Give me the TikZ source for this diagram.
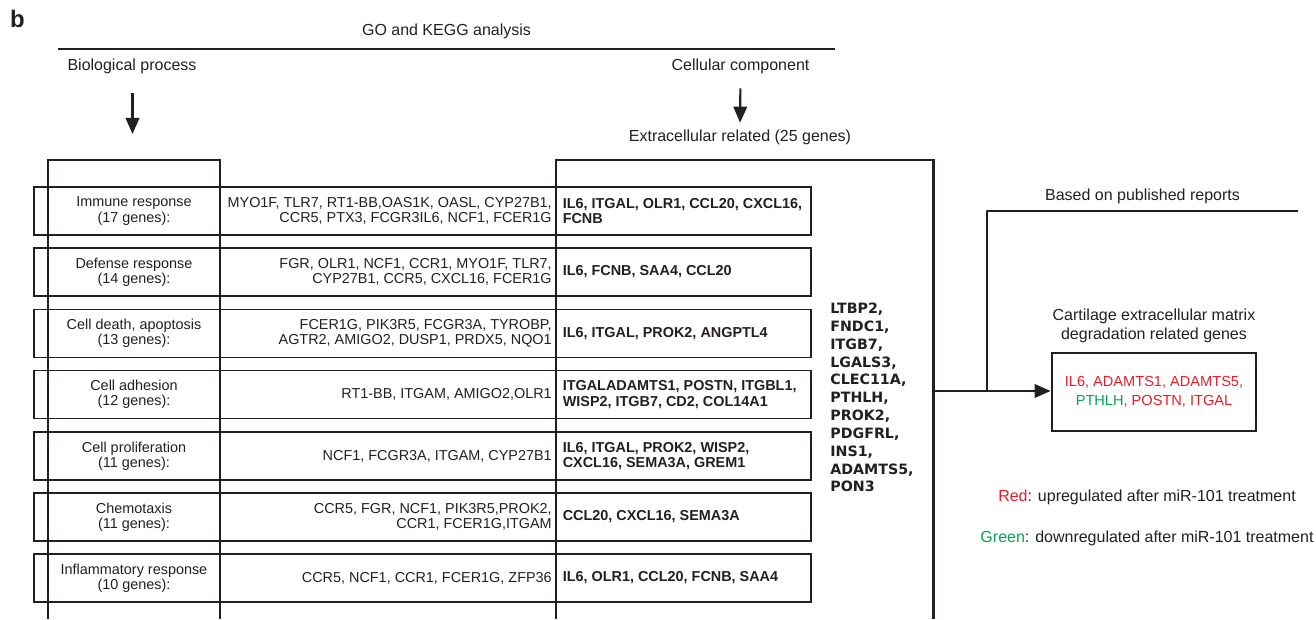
\documentclass[tikz,border=0pt]{standalone}
\usepackage{fontspec}
\setmainfont{Liberation Sans}
\newfontfamily\listfont{DejaVu Sans}
\usetikzlibrary{arrows.meta,positioning}
\definecolor{inkgray}{HTML}{231F20}
\definecolor{upred}{HTML}{ED1C24}
\definecolor{downgreen}{HTML}{00A651}
\tikzset{
  heading/.style={inner sep=0pt, align=center, text=inkgray, font=\fontsize{9.1}{11.3}\selectfont},
  rowbox/.style={rectangle, draw=inkgray, line width=0.65pt, minimum height=0.96cm, inner sep=0pt},
  termbox/.style={rowbox, minimum width=10.44cm},
  extbox/.style={rowbox, minimum width=5.1cm},
  term/.style={inner sep=0pt, align=center, text=inkgray, font=\fontsize{8.2}{8.7}\selectfont},
  bpgenes/.style={inner sep=0pt, align=right, text=inkgray, font=\fontsize{8.2}{8.7}\selectfont},
  ecgenes/.style={inner sep=0pt, align=left, text=inkgray, font=\fontsize{8.2}{8.7}\selectfont\bfseries},
  column/.style={draw=inkgray, line width=1.7pt},
  flow/.style={-{Triangle[length=0.32cm, width=0.27cm]}, line width=1.2pt, draw=inkgray},
  link/.style={draw=inkgray, line width=1.3pt},
  rule/.style={draw=inkgray, line width=0.85pt},
  target/.style={rectangle, draw=inkgray, line width=1.6pt, minimum width=4.08cm, minimum height=1.56cm, align=center, font=\fontsize{8.3}{10.8}\selectfont},
  legend/.style={heading}
}
\begin{document}
\begin{tikzpicture}
\useasboundingbox (0,0) rectangle (26.32,12.38);

\node[inner sep=0pt, text=inkgray, font=\fontsize{13.6}{15}\selectfont\bfseries] (panel) at (0.35,12.0) {b};

% Header and the two branches.
\node[heading, minimum width=15.54cm] (gokegg) at (8.93,11.76) {GO and KEGG analysis};
\draw[rule] ([yshift=-0.2cm]gokegg.south west) -- ([yshift=-0.2cm]gokegg.south east);

\node[heading] (bio) at (2.64,11.06) {Biological process};
\node[heading] (cellcomp) at (14.81,11.06) {Cellular component};
\node[heading] (extra) at (14.8,9.64) {Extracellular related (25 genes)};

\coordinate (bptop) at (2.65,9.18);
\draw[flow, shorten <=0.39cm, shorten >=0.52cm] (bio.south -| bptop) -- (bptop);
\draw[flow, shorten <=0.29cm, shorten >=0.13cm] (cellcomp) -- (extra);

% Rows: process, its genes, extracellular genes.
\foreach \y/\proc/\procgenes/\ecg [count=\i] in {
  8.16/{Immune response\\(17 genes):}/{MYO1F, TLR7, RT1-BB,OAS1K, OASL, CYP27B1,\\CCR5, PTX3, FCGR3IL6, NCF1, FCER1G}/{IL6, ITGAL, OLR1, CCL20, CXCL16,\\FCNB},
  6.94/{Defense response\\(14 genes):}/{FGR, OLR1, NCF1, CCR1, MYO1F, TLR7,\\CYP27B1, CCR5, CXCL16, FCER1G}/{IL6, FCNB, SAA4, CCL20},
  5.71/{Cell death, apoptosis\\(13 genes):}/{FCER1G, PIK3R5, FCGR3A, TYROBP,\\AGTR2, AMIGO2, DUSP1, PRDX5, NQO1}/{IL6, ITGAL, PROK2, ANGPTL4},
  4.49/{Cell adhesion\\(12 genes):}/{RT1-BB, ITGAM, AMIGO2,OLR1}/{ITGALADAMTS1, POSTN, ITGBL1,\\WISP2, ITGB7, CD2, COL14A1},
  3.26/{Cell proliferation\\(11 genes):}/{NCF1, FCGR3A, ITGAM, CYP27B1}/{IL6, ITGAL, PROK2, WISP2,\\CXCL16, SEMA3A, GREM1},
  2.04/{Chemotaxis\\(11 genes):}/{CCR5, FGR, NCF1, PIK3R5,PROK2,\\CCR1, FCER1G,ITGAM}/{CCL20, CXCL16, SEMA3A},
  0.82/{Inflammatory response\\(10 genes):}/{CCR5, NCF1, CCR1, FCER1G, ZFP36}/{IL6, OLR1, CCL20, FCNB, SAA4}} {
  \node[termbox] (rowl\i) at (5.9,\y) {};
  \node[extbox] (rowr\i) at (13.67,\y) {};
  \node[term] (proc\i) at (2.68,\y) {\proc};
  \node[bpgenes, anchor=east] (bpg\i) at ([xshift=-0.09cm]rowl\i.east) {\procgenes};
  \node[ecgenes, anchor=west] (ecg\i) at ([xshift=0.14cm]rowr\i.west) {\ecg};
}

% Open columns running off the bottom.
\draw[column] (0.96,0) |- (4.40,9.18) -- (4.40,0);
\draw[column] (11.12,0) |- (18.66,9.18) -- (18.66,0);

\node[anchor=west, inner sep=0pt, align=left, text=inkgray, font=\listfont\fontsize{8.1}{10.15}\selectfont\bfseries] (eclist) at (16.6,4.43) {LTBP2,\\FNDC1,\\ITGB7,\\LGALS3,\\CLEC11A,\\PTHLH,\\PROK2,\\PDGFRL,\\INS1,\\ADAMTS5,\\PON3};

% Literature filter.
\node[target] (cart) at (23.08,4.54) {\textcolor{upred}{IL6, ADAMTS1, ADAMTS5,}\\\textcolor{downgreen}{PTHLH}\textcolor{upred}{, POSTN, ITGAL}};
\node[heading, above=0.16cm of cart] (carttitle) {Cartilage extracellular matrix\\degradation related genes};

\coordinate (ecedge) at (18.66,4.56);
\coordinate (fork) at (19.74,4.56);
\draw[flow] (ecedge) -- (ecedge -| cart.west);

\node[heading, minimum width=6.22cm, anchor=south, inner ysep=0.14cm] (pub) at (22.85,8.16) {Based on published reports};
\draw[link] (fork) |- (pub.south west) -- (pub.south east);

\node[legend] (uplegend) at (22.94,2.44) {\textcolor{upred}{Red}: upregulated after miR-101 treatment};
\node[legend] (downlegend) at (22.94,1.62) {\textcolor{downgreen}{Green}: downregulated after miR-101 treatment};

\end{tikzpicture}
\end{document}
